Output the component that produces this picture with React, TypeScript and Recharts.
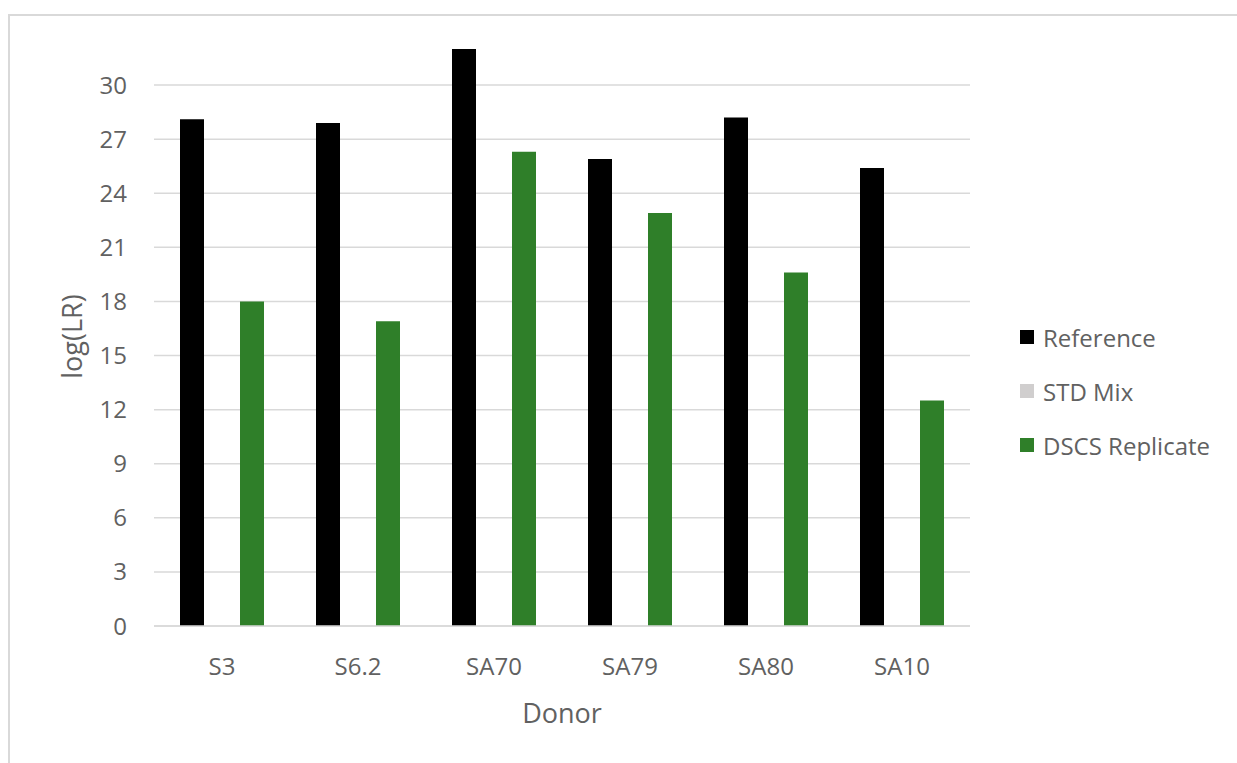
import React from 'react';
import { BarChart, Bar, XAxis, YAxis, CartesianGrid, Legend } from 'recharts';

// Donor categories along the x axis
const donors = ['S3', 'S6.2', 'SA70', 'SA79', 'SA80', 'SA10'];

// log(LR) values per series
const referenceValues = [28.1, 27.9, 32.0, 25.9, 28.2, 25.4];
const stdMixValues = [0, 0, 0, 0, 0, 0];
const dscsValues = [18.0, 16.9, 26.3, 22.9, 19.6, 12.5];

// series names, in legend order
const seriesNames = ['Reference', 'STD Mix', 'DSCS Replicate'];

// y axis tick labels
const yTicks = [0, 3, 6, 9, 12, 15, 18, 21, 24, 27, 30];

const FONT = '"Open Sans", "Noto Sans", sans-serif';
const TEXT = '#616161';
const GRID = '#d9d9d9';

const data = donors.map((donor, i) => ({
  donor,
  reference: referenceValues[i],
  stdMix: stdMixValues[i],
  dscs: dscsValues[i],
}));

const LegendContent = (props: any) => {
  const payload = [...(props.payload || [])].sort(
    (a: any, b: any) => seriesNames.indexOf(a.value) - seriesNames.indexOf(b.value)
  );
  return (
    <div style={{ fontFamily: FONT, fontSize: 24, color: TEXT }}>
      {payload.map((entry: any) => (
        <div
          key={entry.value}
          style={{ display: 'flex', alignItems: 'center', height: 54, whiteSpace: 'nowrap' }}
        >
          <span
            style={{
              display: 'inline-block',
              width: 14,
              height: 14,
              background: entry.color,
              marginRight: 9,
            }}
          />
          <span>{entry.value}</span>
        </div>
      ))}
    </div>
  );
};

const YTitle = (props: any) => {
  const vb = props.viewBox || { x: 0, y: 0, width: 0, height: 0 };
  const cx = vb.x + 61;
  const cy = vb.y + vb.height / 2 + 8;
  return (
    <text
      x={cx}
      y={cy}
      transform={`rotate(-90 ${cx} ${cy})`}
      textAnchor="middle"
      dominantBaseline="central"
      fill={TEXT}
      fontFamily={FONT}
      fontSize={27}
    >
      log(LR)
    </text>
  );
};

const XTitle = (props: any) => {
  const vb = props.viewBox || { x: 0, y: 0, width: 0, height: 0 };
  return (
    <text
      x={vb.x + vb.width / 2}
      y={vb.y + 97}
      textAnchor="middle"
      fill={TEXT}
      fontFamily={FONT}
      fontSize={27}
    >
      Donor
    </text>
  );
};

export default function App() {
  return (
    <div
      style={{
        position: 'absolute',
        left: 8,
        top: 14,
        width: 1229,
        height: 749,
        boxSizing: 'border-box',
        borderTop: `2px solid ${GRID}`,
        borderLeft: `2px solid ${GRID}`,
        background: '#fff',
        overflow: 'hidden',
      }}
    >
      <BarChart
        width={1227}
        height={747}
        data={data}
        margin={{ top: 15, right: 267, bottom: 0, left: 0 }}
        barSize={24}
        barGap={6}
      >
        <CartesianGrid vertical={false} stroke={GRID} strokeWidth={1.5} syncWithTicks />
        <XAxis
          dataKey="donor"
          height={137}
          axisLine={{ stroke: GRID, strokeWidth: 1.5 }}
          tickLine={false}
          tickSize={0}
          tickMargin={32}
          tick={{ fill: TEXT, fontSize: 24, fontFamily: FONT }}
          label={{ content: <XTitle /> }}
        />
        <YAxis
          width={144}
          domain={[0, 33]}
          ticks={yTicks}
          interval={0}
          axisLine={false}
          tickLine={false}
          tickSize={0}
          tickMargin={27}
          tick={{ fill: TEXT, fontSize: 24, fontFamily: FONT }}
          label={{ content: <YTitle /> }}
        />
        <Legend
          layout="vertical"
          align="center"
          verticalAlign="middle"
          content={<LegendContent />}
          wrapperStyle={{ left: 1010, top: 294, width: 'auto', height: 'auto' }}
        />
        <Bar dataKey="reference" name="Reference" fill="#000000" isAnimationActive={false} />
        <Bar dataKey="stdMix" name="STD Mix" fill="#d0cece" isAnimationActive={false} />
        <Bar dataKey="dscs" name="DSCS Replicate" fill="#2f7f29" isAnimationActive={false} />
      </BarChart>
    </div>
  );
}
